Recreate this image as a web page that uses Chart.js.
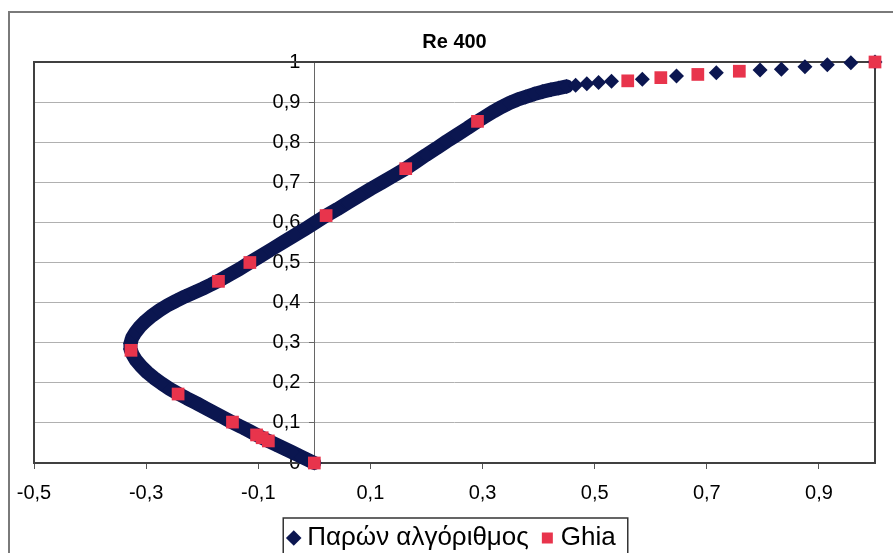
<!DOCTYPE html>
<html>
<head>
<meta charset="utf-8">
<script src="https://cdn.jsdelivr.net/npm/chart.js@4/dist/chart.umd.min.js"></script>
<style>
html,body{margin:0;padding:0;background:#fff;}
canvas{display:block;}
</style>
</head>
<body>
<canvas id="c" width="893" height="553"></canvas>
<script>
// ---- data ----
const chartTitle = 'Re 400';
const seriesNames = ['Παρών αλγόριθμος', 'Ghia'];

// present algorithm: u velocity along the vertical centreline (x) vs y
const algU = [
  0.000, -0.012, -0.025, -0.040, -0.055, -0.070, -0.085, -0.100, -0.115, -0.130,
  -0.146, -0.162, -0.178, -0.194, -0.210, -0.227, -0.243, -0.258, -0.272, -0.286,
  -0.298, -0.309, -0.318, -0.324, -0.328, -0.328, -0.325, -0.319, -0.311, -0.301,
  -0.289, -0.276, -0.262, -0.247, -0.231, -0.215, -0.199, -0.184, -0.170, -0.152,
  -0.133, -0.115, -0.095, -0.075, -0.055, -0.035, -0.015, 0.003, 0.021, 0.041,
  0.061, 0.081, 0.101, 0.121, 0.142, 0.163, 0.181, 0.199, 0.218, 0.236,
  0.254, 0.273, 0.291, 0.306, 0.320, 0.334, 0.348, 0.362, 0.377, 0.392,
  0.407, 0.422, 0.436, 0.450, 0.466, 0.486, 0.507, 0.530, 0.585, 0.646,
  0.717, 0.795, 0.833, 0.875, 0.915, 0.957, 1.000
];
const algY = [
  0.000, 0.008, 0.017, 0.027, 0.037, 0.047, 0.057, 0.068, 0.079, 0.090,
  0.101, 0.113, 0.125, 0.137, 0.149, 0.161, 0.173, 0.185, 0.198, 0.212,
  0.226, 0.241, 0.256, 0.270, 0.284, 0.298, 0.312, 0.326, 0.340, 0.354,
  0.368, 0.381, 0.393, 0.404, 0.415, 0.425, 0.435, 0.445, 0.455, 0.469,
  0.484, 0.500, 0.517, 0.534, 0.551, 0.568, 0.585, 0.601, 0.617, 0.633,
  0.650, 0.667, 0.684, 0.700, 0.717, 0.734, 0.751, 0.768, 0.785, 0.802,
  0.818, 0.835, 0.852, 0.865, 0.877, 0.888, 0.898, 0.906, 0.913, 0.920,
  0.926, 0.931, 0.935, 0.939, 0.942, 0.946, 0.949, 0.952, 0.957, 0.965,
  0.973, 0.980, 0.982, 0.988, 0.993, 0.998, 1.000
];
// Ghia et al. reference points
const ghiaU = [1.0, 0.758, 0.684, 0.618, 0.559, 0.291, 0.163, 0.021, -0.115, -0.171,
  -0.327, -0.243, -0.146, -0.103, -0.093, -0.082, 0.0];
const ghiaY = [1.000, 0.977, 0.969, 0.961, 0.953, 0.852, 0.734, 0.617, 0.500, 0.453,
  0.281, 0.172, 0.102, 0.070, 0.063, 0.055, 0.000];

const xTicks = [-0.5, -0.3, -0.1, 0.1, 0.3, 0.5, 0.7, 0.9];
const yTicks = [0, 0.1, 0.2, 0.3, 0.4, 0.5, 0.6, 0.7, 0.8, 0.9, 1];
const denseEnd = 73; // the marker band is continuous up to this point index

// ---- drawing ----
const NAVY = '#0b1650';
const RED = '#e8344c';
const fmt = v => String(Math.round(v * 10) / 10).replace('.', ',');
const mkTicks = arr => arr.map(v => ({ value: v, label: fmt(v) }));

Chart.defaults.font.family = "'Liberation Sans', Arial, sans-serif";
Chart.defaults.color = '#000';

const LEG_PAD = 18, LEG_FONT = 26;

const frames = {
  id: 'frames',
  beforeDraw(chart) {
    const c = chart.ctx;
    c.save();
    c.fillStyle = '#fff';
    c.fillRect(0, 0, chart.width, chart.height);
    c.strokeStyle = '#7a7a7a';
    c.lineWidth = 2;
    c.beginPath();
    c.moveTo(9, chart.height + 2);
    c.lineTo(9, 12);
    c.lineTo(chart.width + 2, 12);
    c.stroke();
    c.restore();
  },
  beforeDatasetsDraw(chart) {
    const a = chart.chartArea, c = chart.ctx;
    c.save();
    c.strokeStyle = '#404040';
    c.lineWidth = 2;
    c.strokeRect(a.left, a.top, a.right - a.left, a.bottom - a.top);
    c.restore();
  },
  afterDraw(chart) {
    const lg = chart.legend;
    if (!lg || !lg.legendHitBoxes || !lg.legendHitBoxes.length) return;
    const hb = lg.legendHitBoxes;
    const l = Math.min(...hb.map(h => h.left)) - 10;
    const r = Math.max(...hb.map(h => h.left + h.width)) + 12;
    const t = lg.top + LEG_PAD + LEG_FONT / 2 - 20;
    const c = chart.ctx;
    c.save();
    c.strokeStyle = '#333';
    c.lineWidth = 1.5;
    c.strokeRect(l, t, r - l, chart.height + 10 - t);
    c.restore();
  }
};

new Chart(document.getElementById('c'), {
  type: 'scatter',
  data: {
    datasets: [
      {
        label: seriesNames[0],
        data: algU.map((u, i) => ({ x: u, y: algY[i] })),
        showLine: true,
        borderWidth: 14,
        borderColor: NAVY,
        backgroundColor: NAVY,
        borderCapStyle: 'round',
        borderJoinStyle: 'round',
        segment: {
          borderColor: c => (c.p1DataIndex <= denseEnd ? NAVY : 'rgba(0,0,0,0)')
        },
        pointStyle: 'rectRot',
        pointRadius: 7.5,
        pointBorderWidth: 0,
        pointBackgroundColor: NAVY,
        pointHoverRadius: 7.5,
        order: 2,
        clip: false
      },
      {
        label: seriesNames[1],
        data: ghiaU.map((u, i) => ({ x: u, y: ghiaY[i] })),
        showLine: false,
        pointStyle: 'rect',
        pointRadius: 9,
        pointBorderWidth: 0,
        backgroundColor: RED,
        borderColor: RED,
        pointBackgroundColor: RED,
        order: 1,
        clip: false
      }
    ]
  },
  options: {
    responsive: false,
    animation: false,
    devicePixelRatio: 1,
    events: [],
    layout: { padding: { left: 34, right: 18, top: 20, bottom: -8 } },
    scales: {
      x: {
        type: 'linear',
        position: 'bottom',
        min: -0.5,
        max: 1.0,
        afterBuildTicks: s => { s.ticks = mkTicks(xTicks); },
        afterFit: s => { s.height = 44; },
        grid: { drawOnChartArea: false, drawTicks: true, tickLength: 6, color: '#555' },
        border: { display: true, color: '#333', width: 2 },
        ticks: { font: { size: 20 }, padding: 12, callback: v => fmt(v), maxRotation: 0, autoSkip: false, color: '#000' }
      },
      y: {
        type: 'linear',
        position: { x: 0 },
        min: 0,
        max: 1,
        afterBuildTicks: s => { s.ticks = mkTicks(yTicks); },
        grid: { color: '#b0b0b0', lineWidth: 1, tickLength: 5, tickColor: '#666' },
        border: { display: true, color: '#666', width: 1 },
        ticks: { display: false }
      },
      yLabels: {
        type: 'linear',
        axis: 'y',
        position: { x: -0.025 },
        min: 0,
        max: 1,
        afterBuildTicks: s => { s.ticks = mkTicks(yTicks); },
        grid: { display: false, drawTicks: false },
        border: { display: false },
        ticks: { font: { size: 20 }, padding: 0, callback: v => fmt(v), autoSkip: false, color: '#000' }
      }
    },
    plugins: {
      title: {
        display: true,
        text: chartTitle,
        font: { size: 20, weight: 'bold' },
        color: '#000',
        padding: { top: 10, bottom: 8 }
      },
      legend: {
        position: 'bottom',
        labels: {
          usePointStyle: true,
          boxWidth: 1,
          boxHeight: 11,
          padding: LEG_PAD,
          font: { size: LEG_FONT },
          color: '#000',
          sort: (a, b) => a.datasetIndex - b.datasetIndex,
          generateLabels: chart =>
            Chart.defaults.plugins.legend.labels.generateLabels(chart).map(l =>
              Object.assign(l, { lineWidth: 0, strokeStyle: l.fillStyle }))
        }
      },
      tooltip: { enabled: false }
    }
  },
  plugins: [frames]
});
</script>
</body>
</html>
